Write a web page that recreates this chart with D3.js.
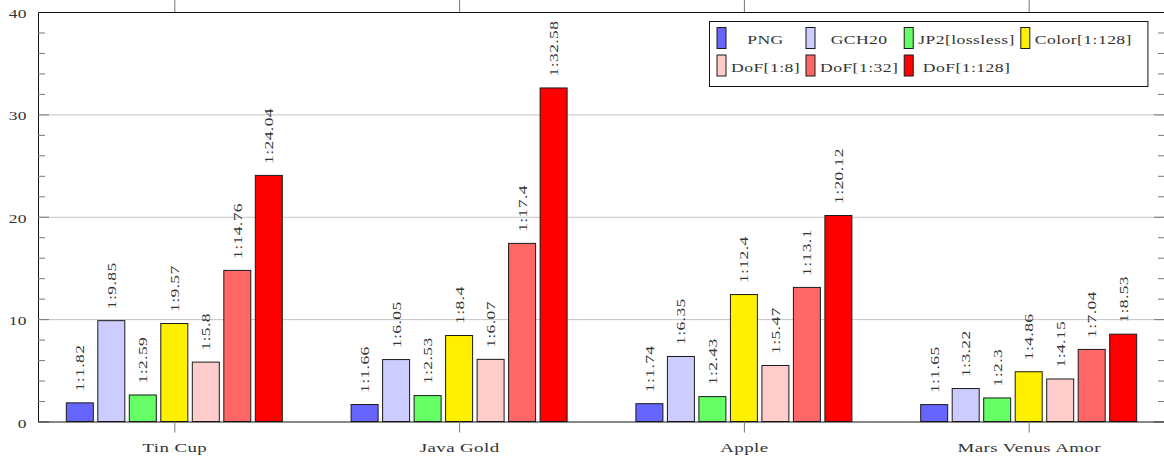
<!DOCTYPE html>
<html>
<head>
<meta charset="utf-8">
<script src="https://cdn.jsdelivr.net/npm/d3@7"></script>
<style>
  html, body { margin: 0; padding: 0; background: #fff; }
  svg { display: block; }
  svg text { font-family: "Liberation Serif", "Times New Roman", serif; }
</style>
</head>
<body>
<svg id="chart" width="1164" height="460"></svg>
<script>
// Compression ratios per test image (value v is shown as "1:v")
const categories = ["Tin Cup", "Java Gold", "Apple", "Mars Venus Amor"];
const seriesNames = ["PNG", "GCH20", "JP2[lossless]", "Color[1:128]", "DoF[1:8]", "DoF[1:32]", "DoF[1:128]"];
const seriesColors = ["#6666ff", "#ccccff", "#66ff66", "#fff000", "#ffcccc", "#ff6666", "#ff0000"];
const pngValues    = [1.82, 1.66, 1.74, 1.65];
const gch20Values  = [9.85, 6.05, 6.35, 3.22];
const jp2Values    = [2.59, 2.53, 2.43, 2.3];
const colorValues  = [9.57, 8.4, 12.4, 4.86];
const dof8Values   = [5.8, 6.07, 5.47, 4.15];
const dof32Values  = [14.76, 17.4, 13.1, 7.04];
const dof128Values = [24.04, 32.58, 20.12, 8.53];
const yMajorTicks  = [0, 10, 20, 30, 40];
const yMinorTicks  = [2, 4, 6, 8, 12, 14, 16, 18, 22, 24, 26, 28, 32, 34, 36, 38];

const seriesValues = [pngValues, gch20Values, jp2Values, colorValues, dof8Values, dof32Values, dof128Values];
const rows = [];
categories.forEach((c, ci) => {
  seriesNames.forEach((s, si) => rows.push({ cat: c, series: s, color: seriesColors[si], value: seriesValues[si][ci] }));
});

const plotLeft = 38, plotRight = 1165, plotTop = 12, plotBottom = 421.5;
const TEXT = "#333";
const FONT = '"Liberation Serif", "Times New Roman", serif';
const STRETCH = 1.4;   // horizontal widening of the serif face

const svg = d3.select("#chart");

const x0 = d3.scalePoint().domain(categories).range([plotLeft, plotRight]).padding(0.4786);
const x1 = d3.scaleBand().domain(seriesNames).range([-110.25, 110.25]).paddingInner(0.143).paddingOuter(0.0715);
const y = d3.scaleLinear().domain([0, 40]).range([plotBottom, plotTop]);

function putText(parent, str, x, yy, opts) {
  const o = Object.assign({ anchor: "middle", size: 13, rotate: 0, baseline: "auto" }, opts || {});
  return parent.append("text")
    .attr("transform", `translate(${x},${yy}) rotate(${o.rotate}) scale(${STRETCH},1)`)
    .attr("text-anchor", o.anchor)
    .attr("dominant-baseline", o.baseline)
    .attr("font-family", FONT)
    .attr("font-size", o.size)
    .attr("letter-spacing", 0.3)
    .attr("fill", TEXT)
    .text(str);
}

// horizontal grid at major ticks
svg.append("g")
  .attr("transform", `translate(${plotLeft},0)`)
  .call(d3.axisLeft(y).tickValues([10, 20, 30]).tickSize(-(plotRight - plotLeft)).tickFormat(""))
  .call(g => g.select(".domain").remove())
  .call(g => g.selectAll("line").attr("stroke", "#c4c4c4").attr("stroke-width", 1));

// bars
const bars = svg.append("g");
bars.selectAll("rect").data(rows).join("rect")
  .attr("x", d => x0(d.cat) + x1(d.series))
  .attr("width", x1.bandwidth())
  .attr("y", d => y(d.value))
  .attr("height", d => y(0) - y(d.value))
  .attr("fill", d => d.color)
  .attr("stroke", "#1a1a1a")
  .attr("stroke-width", 1);

// value labels above bars
const labels = svg.append("g");
rows.forEach(d => {
  putText(labels, "1:" + d.value, x0(d.cat) + x1(d.series) + x1.bandwidth() / 2, y(d.value) - 11.5,
    { anchor: "start", size: 12.5, rotate: -90, baseline: "central" });
});

// y axis, left: major ticks with labels, minor ticks
const yLeft = svg.append("g").attr("transform", `translate(${plotLeft},0)`)
  .call(d3.axisLeft(y).tickValues(yMajorTicks).tickSizeInner(-11).tickSizeOuter(0).tickPadding(11));
yLeft.selectAll(".tick line").attr("stroke", "#777");
yLeft.select(".domain").attr("stroke", "#111");
yLeft.selectAll(".tick").each(function (v) {
  const t = d3.select(this);
  t.select("text").remove();
  putText(t, String(v), -11, 1, { anchor: "end", size: 12.5, baseline: "central" });
});
svg.append("g").attr("transform", `translate(${plotLeft},0)`)
  .call(d3.axisLeft(y).tickValues(yMinorTicks).tickSize(-7).tickFormat(""))
  .call(g => g.select(".domain").remove())
  .call(g => g.selectAll("line").attr("stroke", "#777"));

// y axis, right: ticks only
svg.append("g").attr("transform", `translate(${plotRight},0)`)
  .call(d3.axisRight(y).tickValues(yMajorTicks).tickSizeInner(-11).tickSizeOuter(0).tickFormat(""))
  .call(g => g.selectAll("line").attr("stroke", "#777"))
  .call(g => g.select(".domain").attr("stroke", "#111"));
svg.append("g").attr("transform", `translate(${plotRight},0)`)
  .call(d3.axisRight(y).tickValues(yMinorTicks).tickSize(-7).tickFormat(""))
  .call(g => g.select(".domain").remove())
  .call(g => g.selectAll("line").attr("stroke", "#777"));

// x axis, bottom with category labels
const xBottom = svg.append("g").attr("transform", `translate(0,${plotBottom})`)
  .call(d3.axisBottom(x0).tickSizeInner(11).tickSizeOuter(0));
xBottom.selectAll(".tick line").attr("stroke", "#777");
xBottom.select(".domain").attr("stroke", "#111");
xBottom.selectAll(".tick").each(function (c) {
  const t = d3.select(this);
  t.select("text").remove();
  putText(t, c, 0, 30, { anchor: "middle", size: 13.5 });
});

// x axis, top: ticks only
svg.append("g").attr("transform", `translate(0,${plotTop})`)
  .call(d3.axisTop(x0).tickSizeInner(12).tickSizeOuter(0).tickFormat(""))
  .call(g => g.selectAll(".tick line").attr("stroke", "#777"))
  .call(g => g.select(".domain").attr("stroke", "#111"));

// legend: 4 columns, row-major
const legendCols = 4;
const legendSize = 12.6;
const lg = svg.append("g");
const boxX = 709.5, boxY = 21.5;
const swW = 9, swH = 21, rowPitch = 27.5;
const measure = svg.append("text").attr("font-family", FONT).attr("font-size", legendSize)
  .attr("letter-spacing", 0.3).attr("visibility", "hidden");
const widths = seriesNames.map(s => { measure.text(s); return measure.node().getComputedTextLength() * STRETCH; });
measure.remove();
const colW = d3.range(legendCols).map(c => d3.max(seriesNames.map((s, i) => i % legendCols === c ? widths[i] : 0)));
const colX = [];
let cur = boxX + 7.5;
colW.forEach(w => { colX.push(cur); cur += swW + 5 + w + 6; });
const boxW = cur - 6 + 16 - boxX;
const boxH = 2 * rowPitch + 10;
lg.append("rect").attr("x", boxX).attr("y", boxY).attr("width", boxW).attr("height", boxH)
  .attr("fill", "#fff").attr("stroke", "#111").attr("stroke-width", 1);
seriesNames.forEach((s, i) => {
  const c = i % legendCols, r = Math.floor(i / legendCols);
  const sx = colX[c], sy = boxY + 6 + r * rowPitch;
  lg.append("rect").attr("x", sx).attr("y", sy).attr("width", swW).attr("height", swH)
    .attr("fill", seriesColors[i]).attr("stroke", "#1a1a1a").attr("stroke-width", 1);
  putText(lg, s, sx + swW + 5 + colW[c] / 2, sy + 16.5, { anchor: "middle", size: legendSize });
});
</script>
</body>
</html>
